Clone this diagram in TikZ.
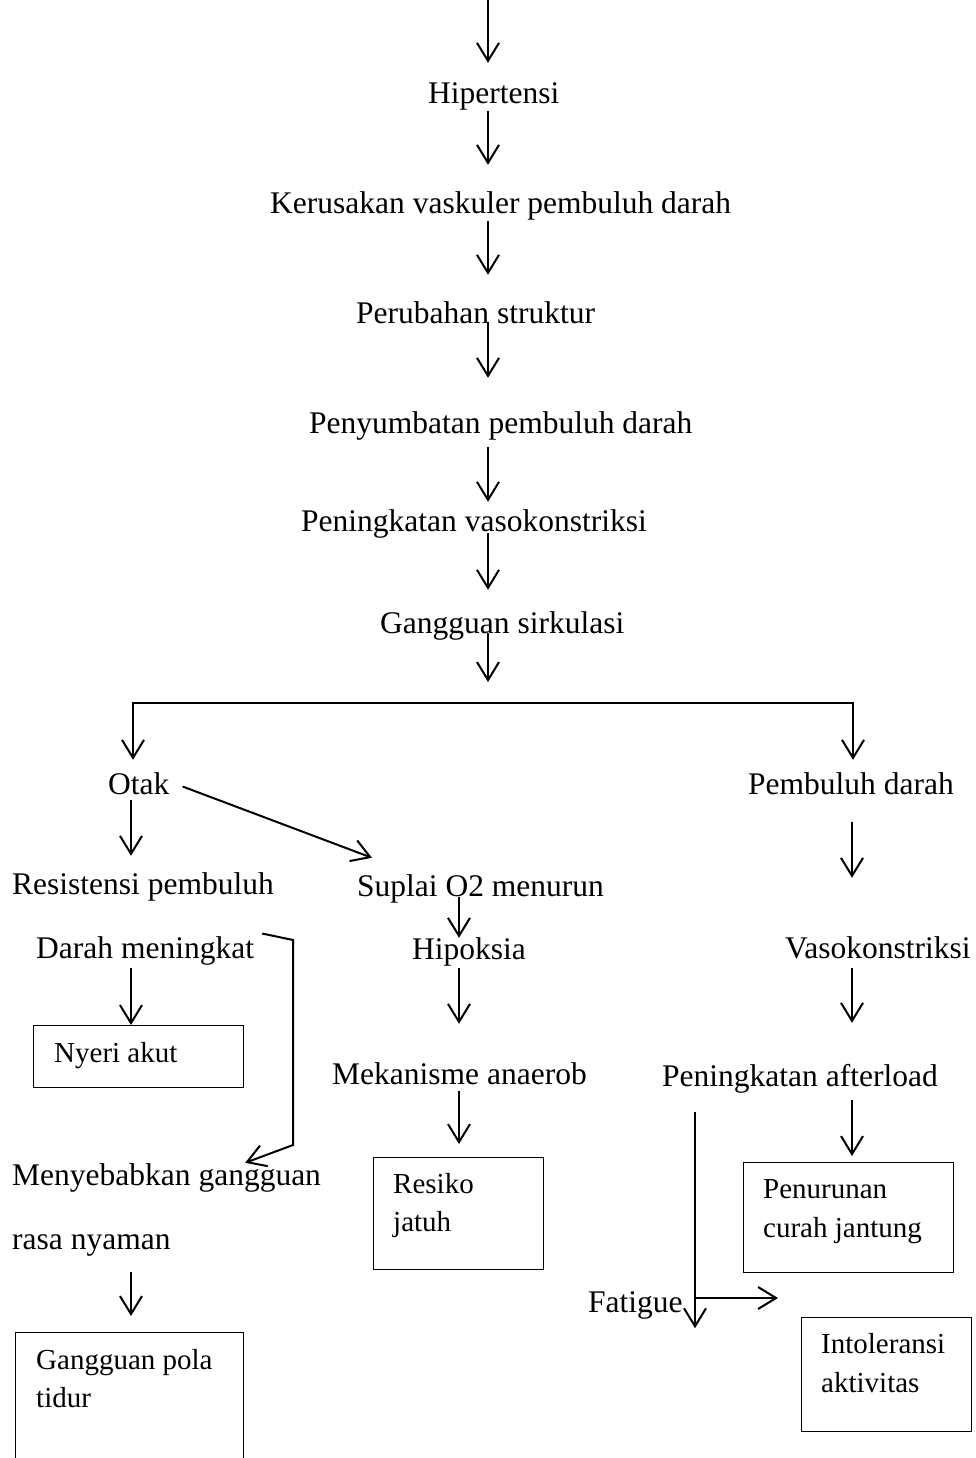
\documentclass[tikz,border=0pt]{standalone}
\usepackage{fontspec}
\setmainfont{Liberation Serif}
\usetikzlibrary{arrows.meta}

\tikzset{
  lbl/.style={inner sep=0pt, anchor=base west, text height=22pt, text depth=7pt},
  isi/.style={lbl, font=\fontsize{29}{35}\selectfont},
  kotak/.style={draw, line width=1.3pt, anchor=north west, inner sep=0pt},
  panah/.style={-{Straight Barb[length=18pt,width=22pt]}, line width=2pt},
}

\begin{document}
\begin{tikzpicture}[x=1pt, y=-1pt, font=\fontsize{31.5}{38}\selectfont]
\useasboundingbox (0,0) rectangle (975,1458);
% kolom panah
\coordinate (atas) at (488,0);
\coordinate (kiri) at (131,0);
\coordinate (tengah) at (459,0);
\coordinate (kanan) at (852,0);
\coordinate (bki) at (133,703);
\coordinate (bka) at (853,703);
\coordinate (siku1) at (293,940);
\coordinate (siku2) at (293,1145);
\coordinate (simpang) at (695,1298);

% teks
\node[lbl] (hip) at (428,104) {Hipertensi};
\node[lbl] (ker) at (270,214) {Kerusakan vaskuler pembuluh darah};
\node[lbl] (per) at (356,323) {Perubahan struktur};
\node[lbl] (pny) at (309,433) {Penyumbatan pembuluh darah};
\node[lbl] (vas) at (301,531) {Peningkatan vasokonstriksi};
\node[lbl] (gsk) at (380,633) {Gangguan sirkulasi};
\node[lbl] (otak) at (108,794) {Otak};
\node[lbl] (pdr) at (748,794) {Pembuluh darah};
\node[lbl] (res) at (12,894) {Resistensi pembuluh};
\node[lbl] (sup) at (357,896) {Suplai O2 menurun};
\node[lbl] (drh) at (36,958) {Darah meningkat};
\node[lbl] (hpk) at (412,959) {Hipoksia};
\node[lbl] (vkr) at (785,958) {Vasokonstriksi};
\node[lbl] (mek) at (332,1084) {Mekanisme anaerob};
\node[lbl] (aft) at (662,1086) {Peningkatan afterload};
\node[lbl] (mny) at (12,1185) {Menyebabkan gangguan};
\node[lbl] (rsn) at (12,1249) {rasa nyaman};
\node[lbl] (fat) at (588,1312) {Fatigue};

% kotak diagnosa
\node[kotak, minimum width=210pt, minimum height=62pt] (nyeri) at (33,1025) {};
\node[kotak, minimum width=170pt, minimum height=112pt] (resiko) at (373,1157) {};
\node[kotak, minimum width=210pt, minimum height=110pt] (turun) at (743,1162) {};
\node[kotak, minimum width=170pt, minimum height=114pt] (intol) at (801,1317) {};
\node[kotak, minimum width=228pt, minimum height=150pt] (pola) at (15,1332) {};
\node[isi] (nyeri1) at ([xshift=21pt,yshift=-37pt]nyeri.north west) {Nyeri akut};
\node[isi] (resiko1) at ([xshift=20pt,yshift=-36pt]resiko.north west) {Resiko};
\node[isi] (resiko2) at ([xshift=20pt,yshift=-74pt]resiko.north west) {jatuh};
\node[isi] (turun1) at ([xshift=20pt,yshift=-36pt]turun.north west) {Penurunan};
\node[isi] (turun2) at ([xshift=20pt,yshift=-75pt]turun.north west) {curah jantung};
\node[isi] (intol1) at ([xshift=20pt,yshift=-36pt]intol.north west) {Intoleransi};
\node[isi] (intol2) at ([xshift=20pt,yshift=-75pt]intol.north west) {aktivitas};
\node[isi] (pola1) at ([xshift=21pt,yshift=-37pt]pola.north west) {Gangguan pola};
\node[isi] (pola2) at ([xshift=21pt,yshift=-75pt]pola.north west) {tidur};

% alur utama
\draw[panah, shorten >=19pt] (atas) -- (hip.north -| atas);
\draw[panah, shorten >=27pt] (hip.south -| atas) -- (ker.north -| atas);
\draw[panah, shorten >=26pt] (ker.south -| atas) -- (per.north -| atas);
\draw[panah, shorten <=-8pt, shorten >=33pt] (per.south -| atas) -- (pny.north -| atas);
\draw[panah, shorten <=7pt, shorten >=7pt] (pny.south -| atas) -- (vas.north -| atas);
\draw[panah, shorten <=-5pt, shorten >=21pt] (vas.south -| atas) -- (gsk.north -| atas);
\draw[panah, shorten <=-7pt, shorten >=21pt] (gsk.south -| atas) -- (bki -| atas);
\draw[panah, shorten >=12pt] (bka) -- (bki) -- (otak.north -| bki);
\draw[panah, shorten >=12pt] (bki) -- (bka) -- (pdr.north -| bka);

% cabang kiri
\draw[panah, shorten <=-1pt, shorten >=16pt] (otak.south -| kiri) -- (res.north -| kiri);
\draw[panah, shorten <=3pt] (drh.south -| kiri) -- (nyeri.north -| kiri);
\draw[panah] ([xshift=8pt,yshift=17pt]drh.east) -- (siku1) -- (siku2) -- ([xshift=-76pt]mny.north east);
\draw[panah, shorten <=16pt, shorten >=16pt] (rsn.south -| kiri) -- (pola.north -| kiri);

% cabang tengah
\draw[panah] ([xshift=13pt]otak.east) -- ([xshift=15pt,yshift=16pt]sup.north west);
\draw[panah, shorten <=-6pt, shorten >=-1pt] (sup.south -| tengah) -- (hpk.north -| tengah);
\draw[panah, shorten <=2pt, shorten >=38pt] (hpk.south -| tengah) -- (mek.north -| tengah);
\draw[panah, shorten >=13pt] (mek.south -| tengah) -- (resiko.north -| tengah);

% cabang kanan
\draw[panah, shorten <=21pt, shorten >=58pt] (pdr.south -| kanan) -- (vkr.north -| kanan);
\draw[panah, shorten <=3pt, shorten >=41pt] (vkr.south -| kanan) -- (aft.north -| kanan);
\draw[panah, shorten <=7pt, shorten >=6pt] (aft.south -| kanan) -- (turun.north -| kanan);
\draw[panah, shorten <=19pt, shorten >=-9pt] (aft.south -| simpang) -- (fat.south -| simpang);
\draw[panah, shorten >=23pt] (simpang) -- (simpang -| intol.west);
\end{tikzpicture}
\end{document}
